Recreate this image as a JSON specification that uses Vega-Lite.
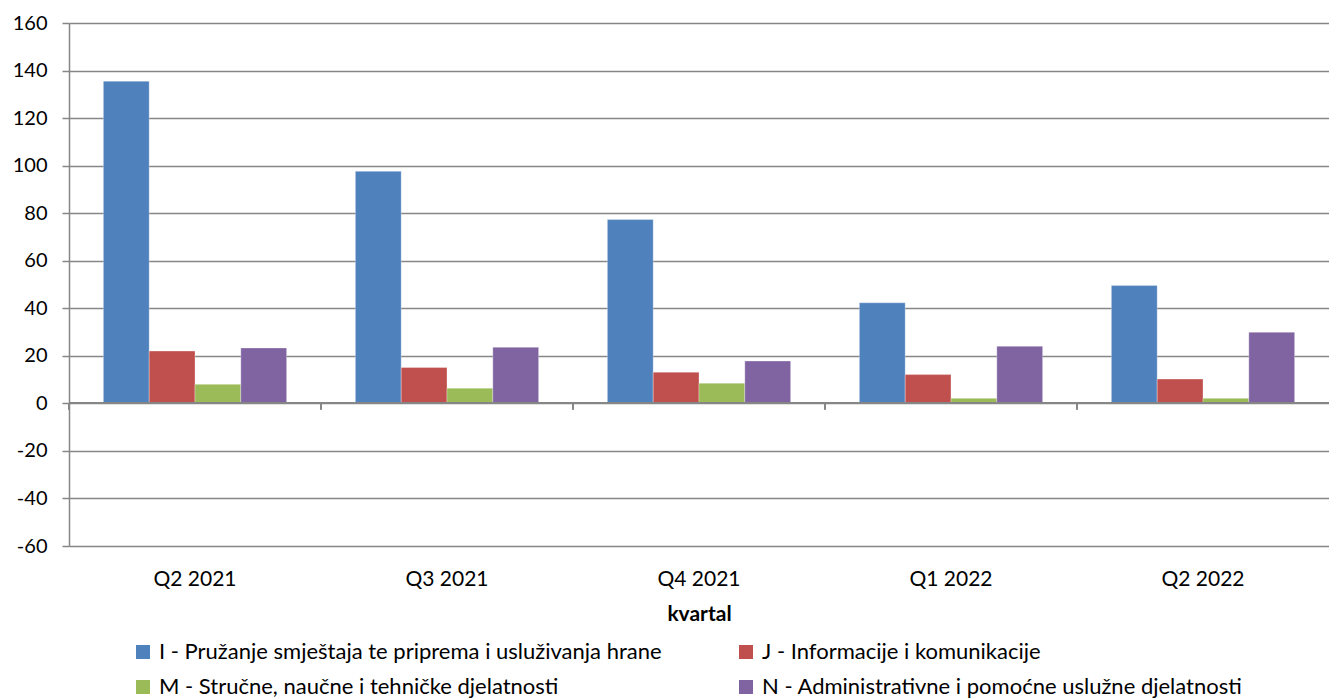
{
  "$schema": "https://vega.github.io/schema/vega-lite/v6.json",
  "autosize": {"type": "none"},
  "padding": {"left": 69, "top": 23, "right": 0, "bottom": 152},
  "width": 1260,
  "height": 523,
  "background": "white",
  "config": {
    "view": {"stroke": null},
    "font": "Lato",
    "axis": {"labelFont": "Lato", "titleFont": "Lato", "labelColor": "#000000", "titleColor": "#000000"}
  },
  "data": {
    "values": [
      {"kvartal": "Q2 2021", "djelatnost": "I - Pružanje smještaja te priprema i usluživanja hrane", "vrijednost": 135.5},
      {"kvartal": "Q2 2021", "djelatnost": "J - Informacije i komunikacije", "vrijednost": 22.0},
      {"kvartal": "Q2 2021", "djelatnost": "M - Stručne, naučne i tehničke djelatnosti", "vrijednost": 8.0},
      {"kvartal": "Q2 2021", "djelatnost": "N - Administrativne i pomoćne uslužne djelatnosti", "vrijednost": 23.3},
      {"kvartal": "Q3 2021", "djelatnost": "I - Pružanje smještaja te priprema i usluživanja hrane", "vrijednost": 97.6},
      {"kvartal": "Q3 2021", "djelatnost": "J - Informacije i komunikacije", "vrijednost": 15.1},
      {"kvartal": "Q3 2021", "djelatnost": "M - Stručne, naučne i tehničke djelatnosti", "vrijednost": 6.4},
      {"kvartal": "Q3 2021", "djelatnost": "N - Administrativne i pomoćne uslužne djelatnosti", "vrijednost": 23.6},
      {"kvartal": "Q4 2021", "djelatnost": "I - Pružanje smještaja te priprema i usluživanja hrane", "vrijednost": 77.3},
      {"kvartal": "Q4 2021", "djelatnost": "J - Informacije i komunikacije", "vrijednost": 13.1},
      {"kvartal": "Q4 2021", "djelatnost": "M - Stručne, naučne i tehničke djelatnosti", "vrijednost": 8.5},
      {"kvartal": "Q4 2021", "djelatnost": "N - Administrativne i pomoćne uslužne djelatnosti", "vrijednost": 17.8},
      {"kvartal": "Q1 2022", "djelatnost": "I - Pružanje smještaja te priprema i usluživanja hrane", "vrijednost": 42.3},
      {"kvartal": "Q1 2022", "djelatnost": "J - Informacije i komunikacije", "vrijednost": 12.1},
      {"kvartal": "Q1 2022", "djelatnost": "M - Stručne, naučne i tehničke djelatnosti", "vrijednost": 2.1},
      {"kvartal": "Q1 2022", "djelatnost": "N - Administrativne i pomoćne uslužne djelatnosti", "vrijednost": 24.0},
      {"kvartal": "Q2 2022", "djelatnost": "I - Pružanje smještaja te priprema i usluživanja hrane", "vrijednost": 49.6},
      {"kvartal": "Q2 2022", "djelatnost": "J - Informacije i komunikacije", "vrijednost": 10.2},
      {"kvartal": "Q2 2022", "djelatnost": "M - Stručne, naučne i tehničke djelatnosti", "vrijednost": 2.1},
      {"kvartal": "Q2 2022", "djelatnost": "N - Administrativne i pomoćne uslužne djelatnosti", "vrijednost": 29.9}
    ]
  },
  "layer": [
    {
      "mark": {"type": "bar", "stroke": "#ffffff", "strokeOpacity": 0.5, "strokeWidth": 0.6},
      "encoding": {
        "x": {
          "field": "kvartal", "type": "nominal", "sort": null,
          "scale": {"paddingInner": 0, "paddingOuter": 0},
          "axis": {
            "title": "kvartal", "titleFontSize": 21, "titleFontWeight": "bold", "titlePadding": 14,
            "labelAngle": 0, "labelFontSize": 21, "labelPadding": 22,
            "domain": false, "ticks": false, "grid": false
          }
        },
        "xOffset": {
          "field": "djelatnost", "type": "nominal", "sort": null,
          "scale": {"paddingInner": 0, "paddingOuter": 0.75}
        },
        "y": {
          "field": "vrijednost", "type": "quantitative",
          "scale": {"domain": [-60, 160], "nice": false, "zero": false},
          "axis": {
            "title": null, "values": [-60, -40, -20, 0, 20, 40, 60, 80, 100, 120, 140, 160],
            "labelExpr": "toString(datum.value)",
            "labelFontSize": 20, "labelPadding": 15,
            "grid": true, "gridColor": "#868686", "gridWidth": 1.5,
            "domainColor": "#868686", "domainWidth": 1.5,
            "tickColor": "#868686", "tickWidth": 1.5, "tickSize": 7
          }
        },
        "color": {
          "field": "djelatnost", "type": "nominal", "sort": null,
          "scale": {
            "domain": [
              "I - Pružanje smještaja te priprema i usluživanja hrane",
              "J - Informacije i komunikacije",
              "M - Stručne, naučne i tehničke djelatnosti",
              "N - Administrativne i pomoćne uslužne djelatnosti"
            ],
            "range": ["#4F81BD", "#C0504D", "#9BBB59", "#8064A2"]
          },
          "legend": {
            "title": null, "orient": "none", "legendX": 63, "legendY": 618,
            "direction": "horizontal", "columns": 2, "columnPadding": 73, "rowPadding": 13,
            "symbolType": "square", "symbolSize": 196, "symbolStrokeWidth": 0,
            "labelFontSize": 22, "labelFont": "Lato", "labelColor": "#000000", "labelLimit": 700, "labelOffset": 5, "padding": 0
          }
        }
      }
    },
    {
      "mark": {"type": "rule", "color": "#868686", "strokeWidth": 1.5},
      "encoding": {
        "y": {"datum": 0, "type": "quantitative"}
      }
    },
    {
      "mark": {"type": "rule", "color": "#868686", "strokeWidth": 1.5},
      "encoding": {
        "x": {"field": "kvartal", "type": "nominal", "sort": null, "bandPosition": 0},
        "y": {"datum": 0, "type": "quantitative"},
        "y2": {"datum": -2.6}
      }
    }
  ]
}
